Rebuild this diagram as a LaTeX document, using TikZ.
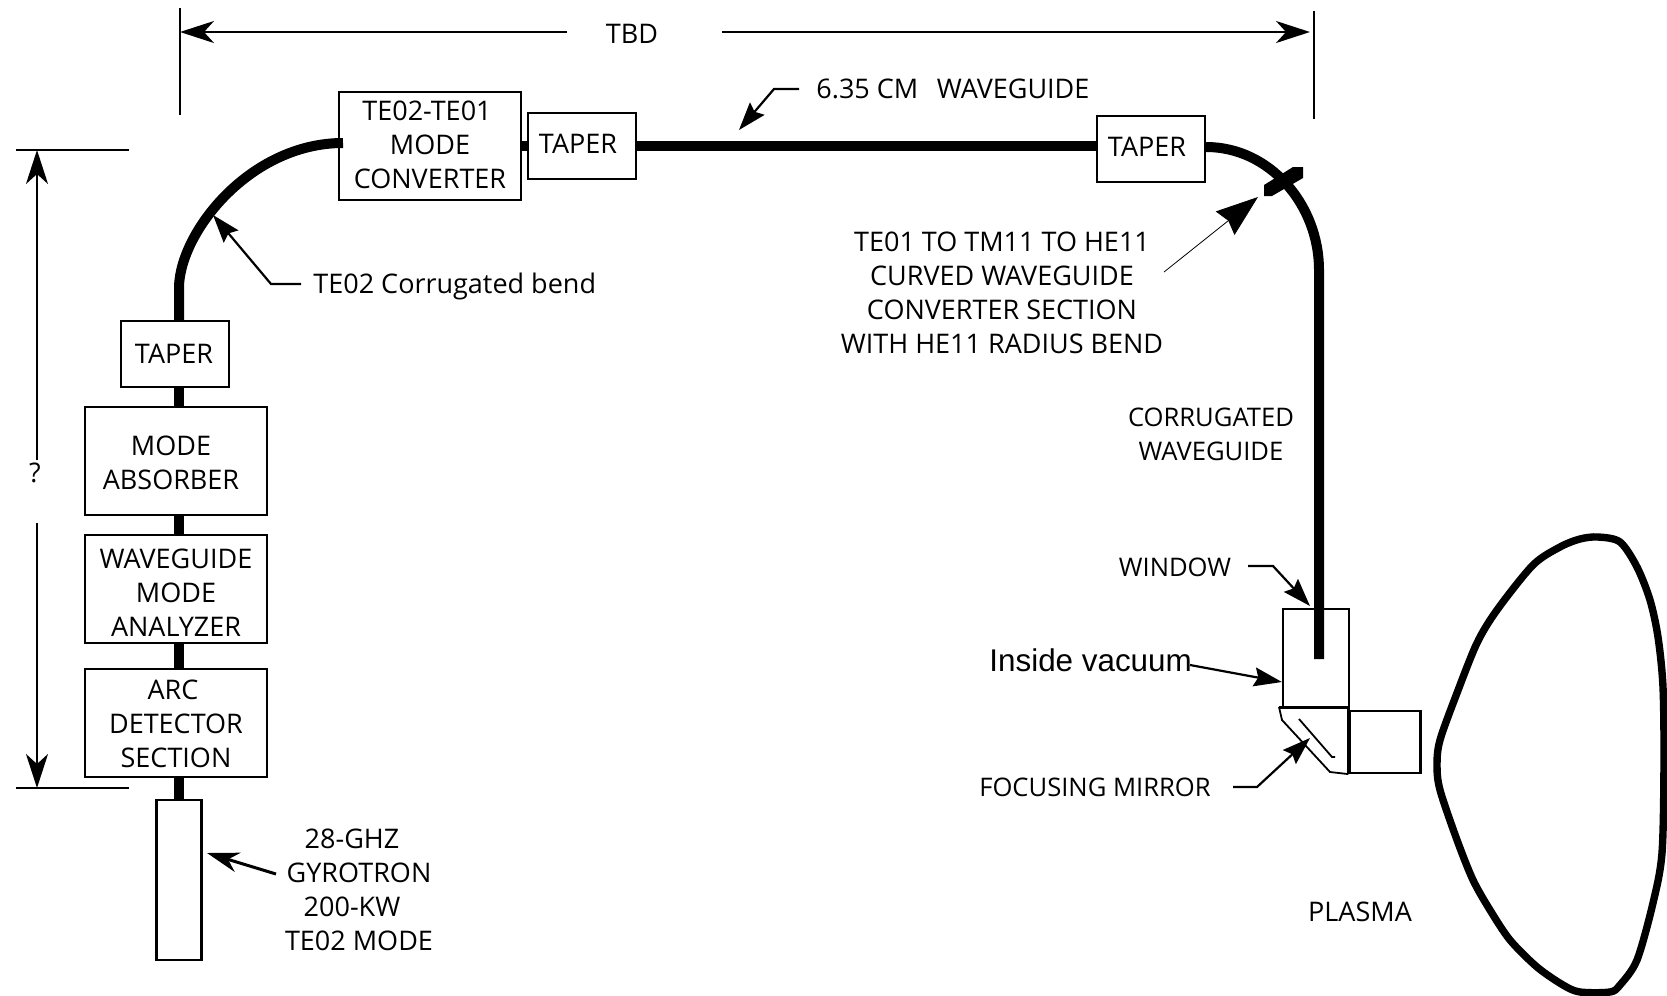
\documentclass[tikz,border=0pt]{standalone}
\usepackage{fontspec}
\setmainfont{Open Sans}
\newfontfamily\arialfont{Liberation Sans}
\usetikzlibrary{arrows.meta, positioning}
\newcommand{\dropstrut}[1]{\rule{0pt}{#1}}
\newcommand{\liftstrut}[1]{\rule[-#1]{0pt}{0pt}}

\begin{document}
\begin{tikzpicture}[
    x=0.5pt,
    y=-0.5pt,
    font=\fontsize{13.5}{17}\selectfont,
    >={Stealth[length=14pt,width=9.5pt,inset=2pt]},
    block/.style={
        draw,
        rectangle,
        line width=1.1pt,
        align=center,
        inner sep=0pt,
        fill=white
    },
    wave/.style={line width=5pt},
    arrow/.style={->, line width=1.1pt},
    barbarrow/.style={-{Stealth[length=16pt,width=10pt,inset=5pt]}, line width=1.5pt},
    bigarrow/.style={-{Stealth[length=21pt,width=15pt,inset=2pt]}, line width=0.4pt},
    dimarrow/.style={-{Stealth[length=17pt,width=11pt,inset=5pt]}, line width=1.1pt},
    dimline/.style={line width=1pt},
    label/.style={align=center, inner sep=0pt},
    smalllabel/.style={label, font=\fontsize{12.8}{17}\selectfont}
]
\useasboundingbox (0,0) rectangle (1667,996);

% transmission line blocks
\node[block, minimum width=91pt, minimum height=54pt] (converter) at (430,146) {TE02-TE01\hspace*{3pt}\\MODE\\CONVERTER\liftstrut{1pt}};
\node[block, minimum width=54pt, minimum height=33pt] (taperA) at (582,146) {TAPER\hspace*{4pt}\liftstrut{2pt}};
\node[block, minimum width=54pt, minimum height=33pt] (taperB) at (1151,149) {TAPER\hspace*{4pt}\liftstrut{2pt}};
\node[block, minimum width=54pt, minimum height=33pt] (taperC) at (175,354) {TAPER\hspace*{1pt}};
\node[block, minimum width=91pt, minimum height=54pt] (absorber) at (176,461) {\dropstrut{12pt}MODE\hspace*{5pt}\\ABSORBER\hspace*{5pt}};
\node[block, minimum width=91pt, minimum height=54pt] (analyzer) at (176,589) {\dropstrut{13pt}WAVEGUIDE\\MODE\\ANALYZER};
\node[block, minimum width=91pt, minimum height=54pt] (arc) at (176,723) {\dropstrut{11pt}ARC\hspace*{3pt}\\DETECTOR\\SECTION};
\node[block, minimum width=22.5pt, minimum height=80pt] (gyrotron) at (179,880) {};

% launcher
\node[block, minimum width=33pt, minimum height=49pt] (window) at (1316,658) {};
\node[block, minimum width=35.5pt, minimum height=31pt] (port) at (1385,742) {};
\coordinate (elbow) at (1319,270);
\coordinate (mirrorA) at (1299,719);
\coordinate (mirrorB) at (1332,757);

% waveguide
\draw[wave] (gyrotron.north -| 179,0) -- (arc.south -| 179,0);
\draw[wave] (arc.north -| 179,0) -- (analyzer.south -| 179,0);
\draw[wave] (analyzer.north -| 179,0) -- (absorber.south -| 179,0);
\draw[wave] (absorber.north -| 179,0) -- (taperC.south -| 179,0);
\draw[wave] (taperC.north -| 179,0) -- (179,287) .. controls (180,232) and (250,143) .. (343,143);
\draw[wave] (converter.east) -- (taperA.west);
\draw[wave] (taperA.east) -- (taperB.west |- taperA.east);
\draw[wave] (taperB.east |- 0,147) .. controls (1270,147) and (1319,205) .. (elbow) -- (1319,659);
\fill (1264,185) -- (1293,167) -- (1303,167) -- (1303,178) -- (1272,196) -- (1264,196) -- cycle;

% mirror housing
\draw[line width=1.5pt] (1279,707) -- (port.north west |- 0,707) -- (port.south west);
\draw[line width=0.9pt] (1279,707) -- ++(3,13) -- (1330,772) -- (port.south west);
\draw[line width=0.9pt] (mirrorA) -- (mirrorB) -- ++(3,0);

% plasma
\draw[line width=3.7pt] plot[smooth cycle, tension=0.5] coordinates {
    (1598,537) (1620,542) (1637,567) (1650,600) (1658,637) (1663,687) (1664,763)
    (1662,853) (1653,903) (1637,960) (1620,985) (1610,992) (1580,992) (1563,985)
    (1537,967) (1510,940) (1490,910) (1473,880) (1457,840) (1440,790) (1437,765)
    (1440,740) (1457,693) (1477,643) (1497,610) (1533,565) (1560,547) (1580,539)};

% dimensions
\draw[dimline] (180,8) -- (180,115);
\draw[dimline] (1314,11) -- (1314,119);
\draw[dimline] (16,150) -- (129,150);
\draw[dimline] (16,788) -- (129,788);
\node[label] (tbd) at (632,34) {TBD};
\node[label] (height) at (35,473) {?};
\draw[dimarrow] (567,32) -- (180,32);
\draw[dimarrow] (722,32) -- (1310,32);
\draw[dimarrow] (37,460) -- (37,150);
\draw[dimarrow] (37,523) -- (37,788);

% labels
\node[label, anchor=west] (bendlabel) at (313,286) {TE02 Corrugated bend};
\node[label, anchor=west] (pipelabel) at (816,89) {6.35 CM\ \ \,WAVEGUIDE};
\node[label] (curvelabel) at (1002,293) {TE01 TO TM11 TO HE11\\CURVED WAVEGUIDE\\CONVERTER SECTION\\WITH HE11 RADIUS BEND};
\node[smalllabel] (corrlabel) at (1211,434) {CORRUGATED\\WAVEGUIDE};
\node[smalllabel] (windowlabel) at (1175,567) {WINDOW};
\node[label, anchor=west, font=\arialfont\fontsize{15.7}{18}\selectfont] (vacuumlabel) at (989,660) {Inside vacuum};
\node[smalllabel] (mirrorlabel) at (1095,787) {FOCUSING MIRROR};
\node[label] (plasmalabel) at (1360,912) {PLASMA};
\node[label] (gyrolabel) at (352,890) {28-GHZ\\\ \ GYROTRON\\200-KW\\\ \ TE02 MODE};

% pointers
\draw[arrow] (bendlabel.west) ++(-12,-2) -- (271,284) -- (213,215);
\draw[arrow] (pipelabel.west) ++(-17,0) -- (774,89) -- (739,130);
\draw[bigarrow] (1164,272) -- (1258,197);
\draw[arrow] (1248,566) -- (1273,566) -- (1310,606);
\draw[arrow] (1190,665) -- (window.west |- 0,682);
\draw[arrow] (1233,787) -- (1257,787) -- (1310,738);
\draw[barbarrow] (276,874) -- (207,853);

\end{tikzpicture}
\end{document}
